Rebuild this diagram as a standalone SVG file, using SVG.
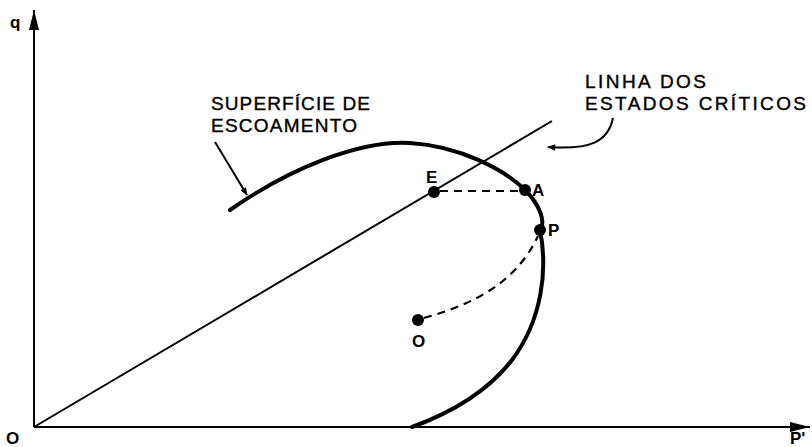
<svg xmlns="http://www.w3.org/2000/svg" width="812" height="447" viewBox="0 0 812 447">
<defs>
<style>
.lbl{font-family:"Liberation Sans",Arial,sans-serif;font-size:19px;fill:#000;stroke:#000;stroke-width:0.4;letter-spacing:1px}
.pt{font-family:"Liberation Sans",Arial,sans-serif;font-size:17px;font-weight:bold;fill:#000}
.thin{fill:none;stroke:#000;stroke-width:2}
.thick{fill:none;stroke:#000;stroke-width:4;stroke-linecap:round}
.dash{fill:none;stroke:#000;stroke-width:2.2;stroke-dasharray:8,6}
</style>
<marker id="ah" viewBox="0 0 10 10" refX="9" refY="5" markerWidth="10" markerHeight="8" orient="auto" markerUnits="userSpaceOnUse">
<path d="M0,1 L10,5 L0,9 Z" fill="#000"/>
</marker>
<marker id="ax" viewBox="0 0 20 10" refX="20" refY="5" markerWidth="20" markerHeight="10" orient="auto" markerUnits="userSpaceOnUse">
<path d="M0,0 L20,5 L0,10 Z" fill="#000"/>
</marker>
</defs>
<rect width="812" height="447" fill="#fff"/>
<g id="axes">
<line x1="34" y1="427" x2="34" y2="10" class="thin" marker-end="url(#ax)"/>
<line x1="34" y1="427" x2="810" y2="427" class="thin" marker-end="url(#ax)"/>
<text x="10" y="28" class="pt">q</text>
<text x="6" y="444" class="pt">O</text>
<text x="790" y="444" class="pt">P'</text>
</g>
<g id="connectors">
<line x1="34" y1="427" x2="552" y2="121" class="thin"/>
<path d="M230,210 C290,168 360,140 410,143 C460,146 505,170 525,190 C540,205 546,222 540,230 C548,270 542,320 512,360 C485,395 445,415 412,427" class="thick"/>
<line x1="440" y1="191" x2="520" y2="191" class="dash"/>
<path d="M424,318 C470,305 515,285 538,236" class="dash"/>
<line x1="215" y1="142" x2="247" y2="195" class="thin" marker-end="url(#ah)"/>
<path d="M613,118 C608,142 590,150 548,147" class="thin" marker-end="url(#ah)"/>
</g>
<g id="labels">
<text x="211" y="110" class="lbl" textLength="160">SUPERFÍCIE DE</text>
<text x="211" y="132" class="lbl" textLength="147">ESCOAMENTO</text>
<text x="585" y="88" class="lbl" textLength="122">LINHA DOS</text>
<text x="585" y="110" class="lbl" textLength="222">ESTADOS CRÍTICOS</text>
</g>
<g id="node-E"><circle cx="434" cy="192" r="6"/><text x="426" y="183" class="pt">E</text></g>
<g id="node-A"><circle cx="525" cy="190" r="6"/><text x="532" y="196" class="pt">A</text></g>
<g id="node-P"><circle cx="540" cy="230" r="6"/><text x="548" y="236" class="pt">P</text></g>
<g id="node-O"><circle cx="418" cy="320" r="6"/><text x="412" y="347" class="pt">O</text></g>
</svg>
